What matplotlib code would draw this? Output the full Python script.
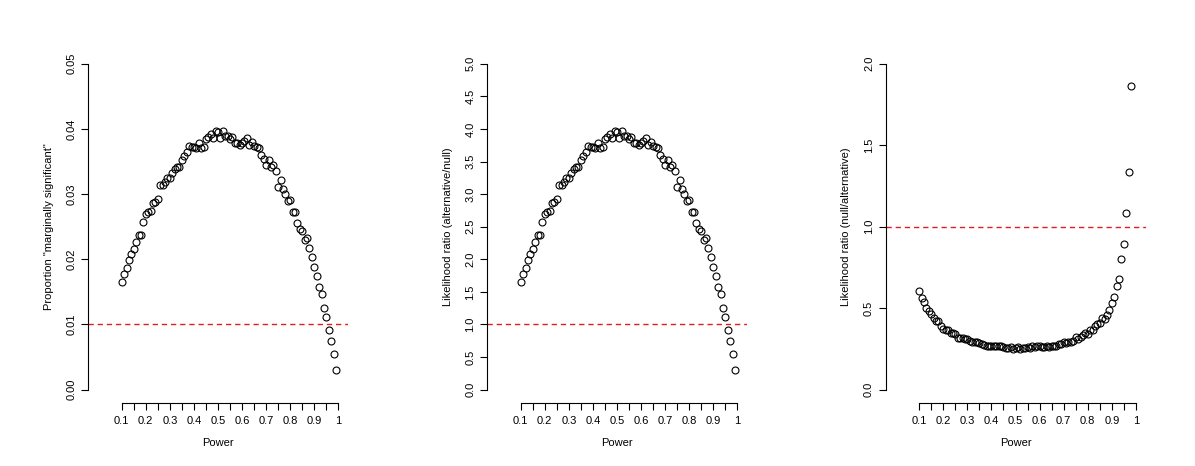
import matplotlib
matplotlib.use("Agg")
import matplotlib.pyplot as plt

plt.rcParams['font.family'] = ['Liberation Sans', 'DejaVu Sans']

power = [0.10, 0.11, 0.12, 0.13, 0.14, 0.15, 0.16, 0.17, 0.18, 0.19,
         0.20, 0.21, 0.22, 0.23, 0.24, 0.25, 0.26, 0.27, 0.28, 0.29,
         0.30, 0.31, 0.32, 0.33, 0.34, 0.35, 0.36, 0.37, 0.38, 0.39,
         0.40, 0.41, 0.42, 0.43, 0.44, 0.45, 0.46, 0.47, 0.48, 0.49,
         0.50, 0.51, 0.52, 0.53, 0.54, 0.55, 0.56, 0.57, 0.58, 0.59,
         0.60, 0.61, 0.62, 0.63, 0.64, 0.65, 0.66, 0.67, 0.68, 0.69,
         0.70, 0.71, 0.72, 0.73, 0.74, 0.75, 0.76, 0.77, 0.78, 0.79,
         0.80, 0.81, 0.82, 0.83, 0.84, 0.85, 0.86, 0.87, 0.88, 0.89,
         0.90, 0.91, 0.92, 0.93, 0.94, 0.95, 0.96, 0.97, 0.98, 0.99]

prop_marginal = [0.0165, 0.0178, 0.0187, 0.0199, 0.0208, 0.0216, 0.0227, 0.0238, 0.0238, 0.0257,
                 0.0270, 0.0272, 0.0274, 0.0286, 0.0288, 0.0293, 0.0314, 0.0314, 0.0318, 0.0325,
                 0.0324, 0.0332, 0.0339, 0.0342, 0.0341, 0.0352, 0.0358, 0.0365, 0.0374, 0.0373,
                 0.0372, 0.0371, 0.0378, 0.0370, 0.0372, 0.0385, 0.0388, 0.0392, 0.0386, 0.0397,
                 0.0396, 0.0386, 0.0397, 0.0389, 0.0389, 0.0384, 0.0387, 0.0378, 0.0379, 0.0375,
                 0.0378, 0.0381, 0.0386, 0.0376, 0.0380, 0.0374, 0.0373, 0.0371, 0.0360, 0.0354,
                 0.0345, 0.0352, 0.0342, 0.0345, 0.0336, 0.0311, 0.0322, 0.0308, 0.0300, 0.0290,
                 0.0291, 0.0273, 0.0272, 0.0256, 0.0247, 0.0244, 0.0229, 0.0232, 0.0218, 0.0204,
                 0.0188, 0.0175, 0.0157, 0.0147, 0.0125, 0.0112, 0.0092, 0.0075, 0.0054, 0.0030]

lr_alt_null = [1.65, 1.78, 1.87, 1.99, 2.08, 2.16, 2.27, 2.38, 2.38, 2.57,
               2.70, 2.72, 2.74, 2.86, 2.88, 2.93, 3.14, 3.14, 3.18, 3.25,
               3.24, 3.32, 3.39, 3.42, 3.41, 3.52, 3.58, 3.65, 3.74, 3.73,
               3.72, 3.71, 3.78, 3.70, 3.72, 3.85, 3.88, 3.92, 3.86, 3.97,
               3.96, 3.86, 3.97, 3.89, 3.89, 3.84, 3.87, 3.78, 3.79, 3.75,
               3.78, 3.81, 3.86, 3.76, 3.80, 3.74, 3.73, 3.71, 3.60, 3.54,
               3.45, 3.52, 3.42, 3.45, 3.36, 3.11, 3.22, 3.08, 3.00, 2.90,
               2.91, 2.73, 2.72, 2.56, 2.47, 2.44, 2.29, 2.32, 2.18, 2.04,
               1.88, 1.75, 1.57, 1.47, 1.25, 1.12, 0.92, 0.75, 0.54, 0.30]

# last point (3.33) lies above the axis limit and is clipped, as in the original
lr_null_alt = [0.606, 0.562, 0.535, 0.503, 0.481, 0.463, 0.441, 0.420, 0.420, 0.389,
               0.370, 0.368, 0.365, 0.350, 0.347, 0.341, 0.318, 0.318, 0.314, 0.308,
               0.309, 0.301, 0.295, 0.292, 0.293, 0.284, 0.279, 0.274, 0.267, 0.268,
               0.269, 0.270, 0.265, 0.270, 0.269, 0.260, 0.258, 0.255, 0.259, 0.252,
               0.253, 0.259, 0.252, 0.257, 0.257, 0.260, 0.258, 0.265, 0.264, 0.267,
               0.265, 0.262, 0.259, 0.266, 0.263, 0.267, 0.268, 0.270, 0.278, 0.282,
               0.290, 0.284, 0.292, 0.290, 0.298, 0.322, 0.311, 0.325, 0.333, 0.345,
               0.344, 0.366, 0.368, 0.391, 0.405, 0.410, 0.437, 0.431, 0.459, 0.490,
               0.532, 0.571, 0.637, 0.680, 0.800, 0.893, 1.087, 1.333, 1.865, 3.333]

x_ticks = [0.1, 0.15, 0.2, 0.25, 0.3, 0.35, 0.4, 0.45, 0.5, 0.55,
           0.6, 0.65, 0.7, 0.75, 0.8, 0.85, 0.9, 0.95, 1.0]
x_labels = ["0.1", "", "0.2", "", "0.3", "", "0.4", "", "0.5", "",
            "0.6", "", "0.7", "", "0.8", "", "0.9", "", "1"]

panels = [
    (prop_marginal, 'Proportion "marginally significant"', 0.01,
     [0.00, 0.01, 0.02, 0.03, 0.04, 0.05], ["0.00", "0.01", "0.02", "0.03", "0.04", "0.05"]),
    (lr_alt_null, "Likelihood ratio (alternative/null)", 1.0,
     [0.0, 0.5, 1.0, 1.5, 2.0, 2.5, 3.0, 3.5, 4.0, 4.5, 5.0],
     ["0.0", "0.5", "1.0", "1.5", "2.0", "2.5", "3.0", "3.5", "4.0", "4.5", "5.0"]),
    (lr_null_alt, "Likelihood ratio (null/alternative)", 1.0,
     [0.0, 0.5, 1.0, 1.5, 2.0], ["0.0", "0.5", "1.0", "1.5", "2.0"]),
]

W, H = 1195, 466
fig = plt.figure(figsize=(W / 100, H / 100), dpi=100)

fs = 8
lefts = [88, 487, 885.5]
for left, (vals, ylab, ref, yt, ytl) in zip(lefts, panels):
    ax = fig.add_axes([left / W, 63.3 / H, 260 / W, (415.3 - 63.3) / H])
    ymax = yt[-1]
    ax.set_xlim(-0.04, 1.04)
    ax.set_ylim(-0.04 * ymax, 1.04 * ymax)

    ax.plot(power, vals, linestyle='none', marker='o', markersize=5,
            markerfacecolor='none', markeredgecolor='black', markeredgewidth=0.8)
    ax.axhline(ref, color='#e02020', linewidth=1.0, linestyle=(0, (3.8, 2.8)))

    for s in ['top', 'right']:
        ax.spines[s].set_visible(False)
    ax.spines['left'].set_bounds(yt[0], yt[-1])
    ax.spines['bottom'].set_bounds(x_ticks[0], x_ticks[-1])
    ax.spines['left'].set_linewidth(0.8)
    ax.spines['bottom'].set_linewidth(0.8)

    ax.set_xticks(x_ticks)
    ax.set_xticklabels(x_labels)
    ax.set_yticks(yt)
    ax.set_yticklabels(ytl, rotation=90, va='center')
    ax.tick_params(axis='both', length=4.8, width=0.8, labelsize=fs, color='black')
    ax.tick_params(axis='x', pad=4.5)
    ax.tick_params(axis='y', pad=3.5)

    ax.set_xlabel("Power", fontsize=fs, labelpad=9)
    ax.set_ylabel(ylab, fontsize=fs, labelpad=9)

fig.savefig("out.png", dpi=100)
